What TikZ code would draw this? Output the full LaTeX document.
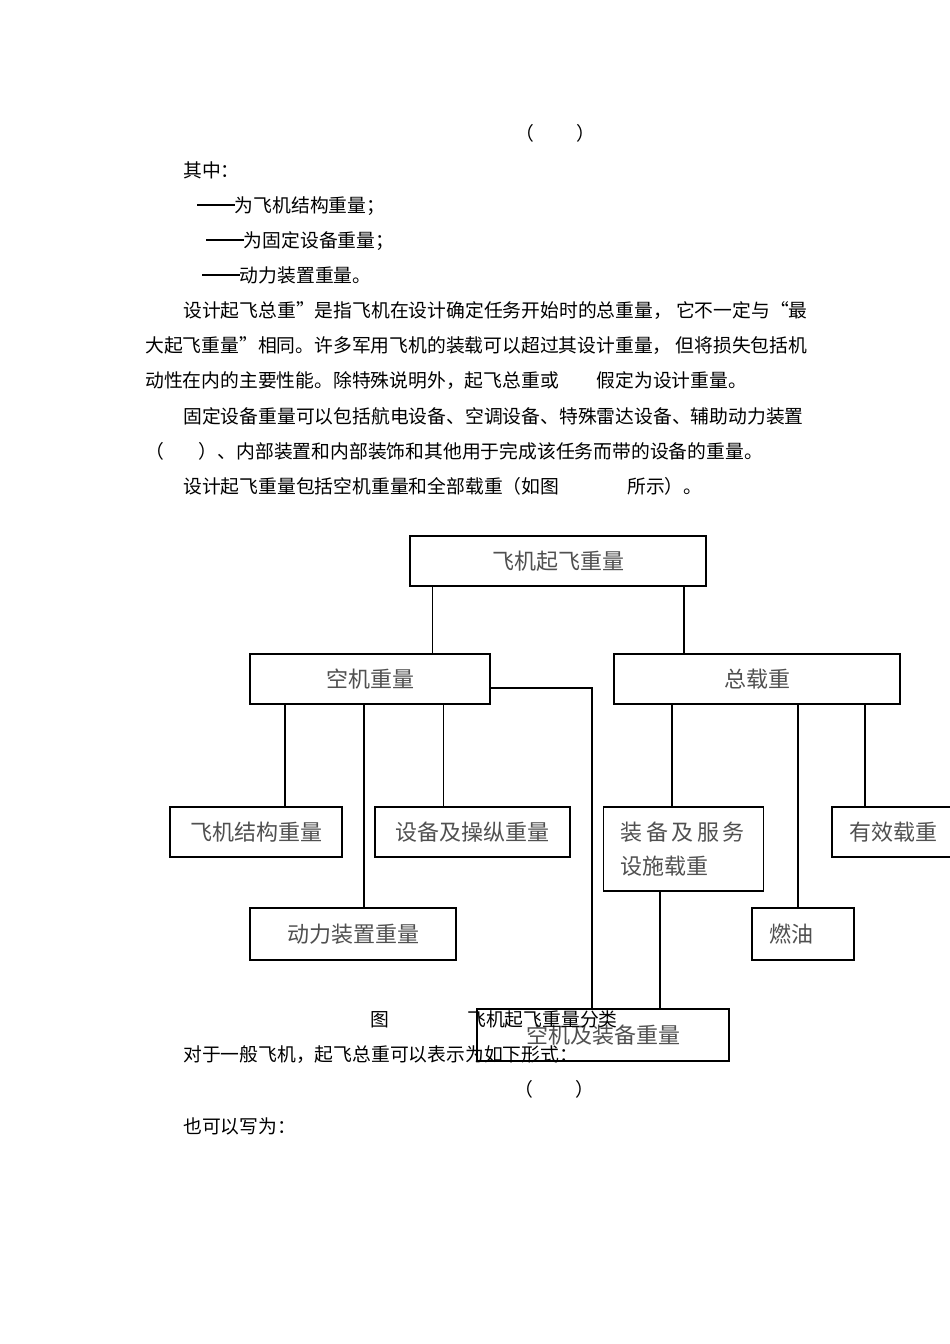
\documentclass[tikz,border=0pt]{standalone}
\usepackage{fontspec}
\setmainfont{Noto Sans CJK SC}
\definecolor{chartInk}{RGB}{0,0,0}
\definecolor{chartLabel}{RGB}{80,80,80}
\newcommand{\bodyfont}{\fontsize{18.8}{22}\selectfont}
\newcommand{\labelfont}{\fontsize{22}{34}\selectfont}
\newcommand{\longdash}{\rule[0.34em]{2em}{0.06em}}
\tikzset{
  unit/.style={draw=chartInk, line width=1.8pt, inner sep=0pt, minimum height=50pt,
    font=\labelfont, text=chartLabel},
  leftunit/.style={unit, align=left, inner xsep=17pt},
  link/.style={draw=chartInk, line width=1.7pt},
  bodyline/.style={anchor=base west, inner sep=0pt, font=\bodyfont, text=chartInk}
}

\begin{document}
\begin{tikzpicture}[x=1pt,y=-1pt]
    \useasboundingbox[fill=white] (0,0) rectangle (950,1344);
    % text above the chart
    \node[bodyline, anchor=base] (eq1) at (555,140) {（\hspace{42pt}）};
    \node[bodyline] (where) at (183,177) {其中：};
    \node[bodyline] (def1) at (197,212) {\longdash 为飞机结构重量；};
    \node[bodyline] (def2) at (206,247) {\longdash 为固定设备重量；};
    \node[bodyline] (def3) at (202,282) {\longdash 动力装置重量。};
    \node[bodyline] (para1) at (183,317) {设计起飞总重”是指飞机在设计确定任务开始时的总重量， 它不一定与“最};
    \node[bodyline] (para2) at (145,352) {大起飞重量”相同。许多军用飞机的装载可以超过其设计重量， 但将损失包括机};
    \node[bodyline] (para3) at (145,387) {动性在内的主要性能。除特殊说明外，起飞总重或\hspace{38pt}假定为设计重量。};
    \node[bodyline] (para4) at (183,423) {固定设备重量可以包括航电设备、空调设备、特殊雷达设备、辅助动力装置};
    \node[bodyline] (para5) at (145,458) {（\hspace{35pt}）、内部装置和内部装饰和其他用于完成该任务而带的设备的重量。};
    \node[bodyline] (para6) at (183,493) {设计起飞重量包括空机重量和全部载重（如图\hspace{68pt}所示）。};
    % chart boxes
    \node[unit, minimum width=296pt] (top) at (558,561) {飞机起飞重量};
    \node[unit, minimum width=240pt] (kong) at (370,679) {空机重量};
    \node[unit, minimum width=286pt] (zong) at (757,679) {总载重};
    \node[unit, minimum width=172pt] (jiegou) at (256,832) {飞机结构重量};
    \node[unit, minimum width=195pt] (shebei) at (472.5,832) {设备及操纵重量};
    \node[leftunit, text width=126pt, minimum height=84pt] (zhuangbei) at (683.5,849)
      {装\hspace{3.5pt}备\hspace{3.5pt}及\hspace{3.5pt}服\hspace{3.5pt}务\\设施载重};
    \node[leftunit, text width=96pt] (youxiao) at (897,832) {有效载重};
    \node[unit, minimum width=206pt, minimum height=52pt] (dongli) at (353,934) {动力装置重量};
    \node[leftunit, text width=68pt, inner xsep=17pt, minimum height=52pt] (ranyou) at (803,934) {燃油};
    \node[unit, minimum width=252pt, minimum height=52pt] (kongzb) at (603,1035) {空机及装备重量};
    % connectors
    \draw[link] (top.south -| 432.5,0) -- (kong.north -| 432.5,0);
    \draw[link] (top.south -| 684,0) -- (zong.north -| 684,0);
    \draw[link] (kong.south -| 285,0) -- (jiegou.north -| 285,0);
    \draw[link] (kong.south -| 364,0) -- (dongli.north -| 364,0);
    \draw[link] (kong.south -| 443.5,0) -- (shebei.north -| 443.5,0);
    \draw[link] (kong.east |- 0,688) -| (kongzb.north -| 592,0);
    \draw[link] (zong.south -| 672,0) -- (zhuangbei.north -| 672,0);
    \draw[link] (zong.south -| 798,0) -- (ranyou.north -| 798,0);
    \draw[link] (zong.south -| 865,0) -- (youxiao.north -| 865,0);
    \draw[link] (zhuangbei.south -| 660,0) -- (kongzb.north -| 660,0);
    % caption and text below
    \node[bodyline] (figno) at (370,1026) {图};
    \node[bodyline] (caption) at (467,1026) {飞机起飞重量分类};
    \node[bodyline] (para7) at (183,1061) {对于一般飞机，起飞总重可以表示为如下形式：};
    \node[bodyline, anchor=base] (eq2) at (554,1096) {（\hspace{42pt}）};
    \node[bodyline] (para8) at (183,1133) {也可以写为：};
\end{tikzpicture}
\end{document}
